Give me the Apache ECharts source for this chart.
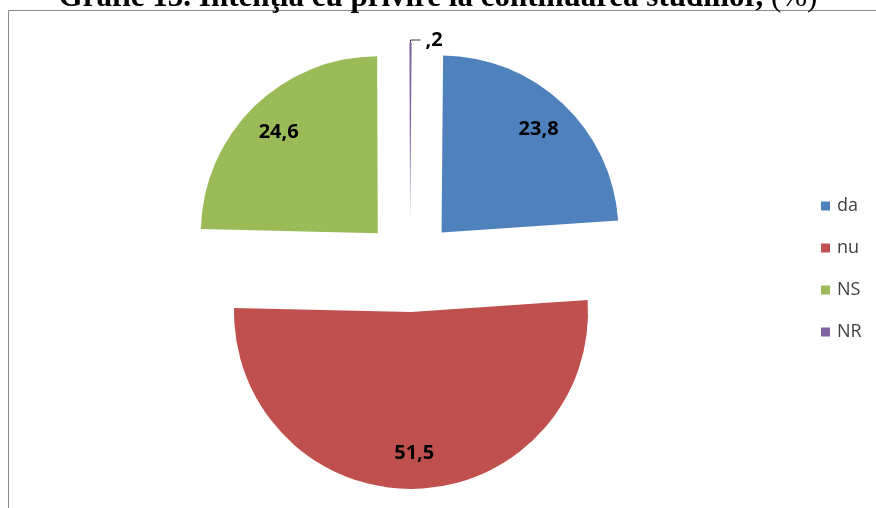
<!DOCTYPE html>
<html>
<head>
<meta charset="utf-8">
<script src="https://cdn.jsdelivr.net/npm/echarts@6/dist/echarts.min.js"></script>
<style>html,body{margin:0;padding:0;background:#fff;}#c{width:876px;height:508px;}</style>
</head>
<body>
<div id="c"></div>
<script>
const categories = ['da', 'nu', 'NS', 'NR'];
const values = [23.8, 51.5, 24.6, 0.2];
const labels = ['23,8', '51,5', '24,6', ',2'];
const colors = ['#4F81BD', '#C0504D', '#9BBB59', '#8064A2'];

const chart = echarts.init(document.getElementById('c'));
const center = [410, 266];
const offset = 46;

const mainData = categories.map((n, i) => ({
  name: n, value: values[i], selected: true,
  itemStyle: { color: colors[i] },
  label: i === 3 ? {
    show: true, position: 'outside', formatter: labels[i],
    fontFamily: 'Open Sans', fontWeight: 'bold', fontSize: 20, color: '#000'
  } : { show: false },
  labelLine: i === 3 ? { show: true, length: 3, length2: 10, lineStyle: { color: '#333', width: 1 } } : { show: false }
}));

const overlayData = categories.map((n, i) => ({
  name: n, value: values[i], selected: true,
  itemStyle: { color: 'rgba(0,0,0,0)' },
  label: i === 3 ? { show: false } : {
    show: true, position: 'inside', formatter: labels[i],
    fontFamily: 'Open Sans', fontWeight: 'bold', fontSize: 20, color: '#000'
  }
}));

chart.setOption({
  animation: false,
  title: {
    text: '{b|Grafic 13. Intenţia cu privire la continuarea studiilor, }{n|(%)}',
    left: 'center',
    top: -23,
    textStyle: {
      rich: {
        b: { fontFamily: 'Liberation Serif', fontWeight: 'bold', fontSize: 31, color: '#000' },
        n: { fontFamily: 'Liberation Serif', fontWeight: 'normal', fontSize: 31, color: '#000' }
      }
    }
  },
  graphic: [{
    type: 'rect', silent: true,
    shape: { x: 8.5, y: 10.5, width: 1000, height: 1000 },
    style: { fill: 'none', stroke: '#8a8a8a', lineWidth: 1 }
  }],
  legend: {
    orient: 'vertical',
    left: 816, top: 192,
    itemWidth: 9, itemHeight: 9, itemGap: 24,
    icon: 'rect',
    data: categories,
    textStyle: { fontFamily: 'Open Sans', fontSize: 18, color: '#404040', lineHeight: 18, padding: [0, 0, 0, 2] }
  },
  series: [{
    type: 'pie',
    center: center,
    radius: 177,
    startAngle: 89.5,
    clockwise: true,
    selectedMode: 'multiple',
    selectedOffset: offset,
    emphasis: { disabled: true },
    avoidLabelOverlap: false,
    itemStyle: { borderWidth: 0 },
    data: mainData
  }, {
    type: 'pie',
    center: center,
    radius: [100, 177],
    startAngle: 89.5,
    clockwise: true,
    selectedMode: 'multiple',
    selectedOffset: offset,
    emphasis: { disabled: true },
    silent: true,
    avoidLabelOverlap: false,
    labelLine: { show: false },
    data: overlayData
  }]
});
</script>
</body>
</html>
